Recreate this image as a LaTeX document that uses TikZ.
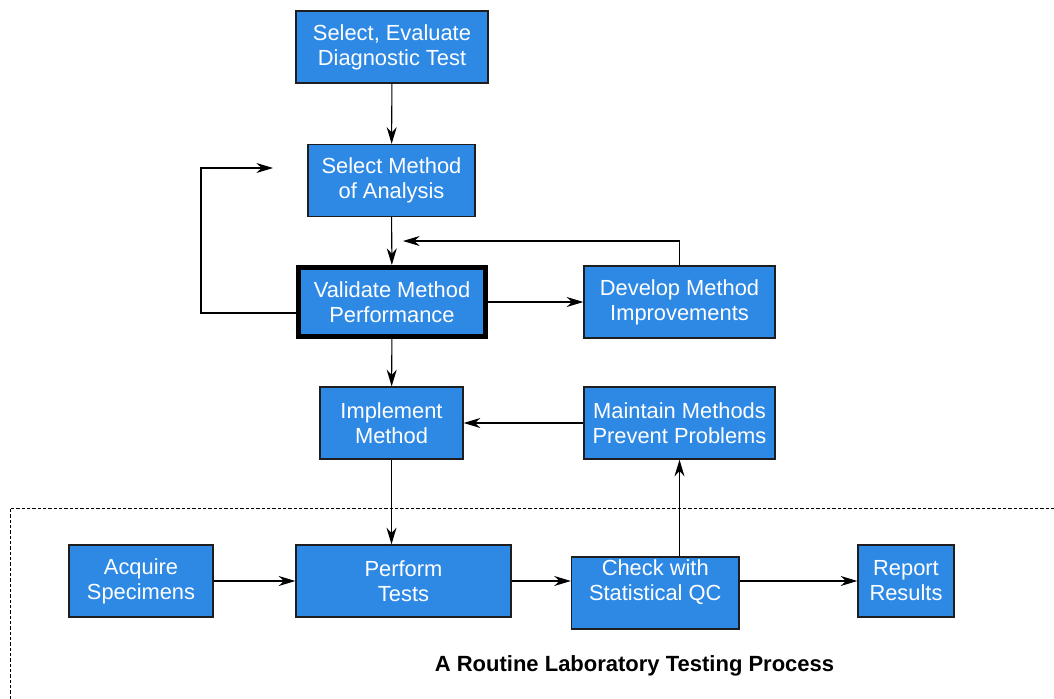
\documentclass[tikz,border=0pt]{standalone}
\usepackage{fontspec}
\setmainfont{Liberation Sans}
\usepackage{tikz}
\usetikzlibrary{arrows.meta}
\definecolor{boxblue}{RGB}{46,137,229}
\definecolor{edgegrey}{RGB}{30,30,30}

\begin{document}
\begin{tikzpicture}[x=0.75pt,y=0.75pt,yscale=-1,xscale=1,
	blk/.style={draw=edgegrey,line width=1pt,fill=boxblue,text=white,align=center,inner sep=0pt,
		minimum height=54pt,font=\fontsize{16.4}{18.75}\selectfont},
	arr/.style={draw=black,line width=0.8pt,-{Stealth[length=12.5pt,width=7.5pt,inset=4pt]}}]
	\useasboundingbox (0,0) rectangle (1054,699);
	
	%Shape: Rectangle [id:sel]
	\node[blk,minimum width=144pt] (sel) at (392,47) {Select, Evaluate\\Diagnostic Test};
	%Shape: Rectangle [id:mth]
	\node[blk,minimum width=125.25pt] (mth) at (391.5,180.5) {Select Method\\of Analysis};
	%Shape: Rectangle [id:val]
	\node[blk,draw=black,line width=3.75pt,minimum width=140.25pt,minimum height=51.75pt] (val) at (392,302) {Validate Method\\Performance};
	%Shape: Rectangle [id:dev]
	\node[blk,minimum width=143.25pt] (dev) at (679.5,302) {Develop Method\\Improvements};
	%Shape: Rectangle [id:imp]
	\node[blk,minimum width=107.25pt] (imp) at (391.5,423) {Implement\\Method};
	%Shape: Rectangle [id:mnt]
	\node[blk,minimum width=143.25pt] (mnt) at (679.5,423) {Maintain Methods\\Prevent Problems};
	
	%Dashed frame of the routine process
	\draw[line width=0.75pt,dash pattern=on 2.5pt off 1.5pt] (10,699) -- (10,508) -- (1054,508);
	
	%Shape: Rectangle [id:acq]
	\node[blk,minimum width=108pt] (acq) at (141,581) {Acquire\\Specimens};
	%Shape: Rectangle [id:prf]
	\node[blk,minimum width=161.25pt] (prf) at (403.5,581) {Perform\\Tests};
	%Shape: Rectangle [id:chk]
	\node[blk,minimum width=125.6pt,text height=32.25pt,text depth=21.75pt] (chk) at (655.25,593) {Check with\\Statistical QC};
	%Shape: Rectangle [id:rep]
	\node[blk,minimum width=72pt] (rep) at (906,581) {Report\\Results};
	
	% Text Node
	\node[font=\fontsize{16.5}{19}\selectfont\bfseries,inner sep=0pt] (ttl) at (634.5,666) {A Routine Laboratory Testing Process};
	
	%Straight Lines
	\coordinate (fbL) at (201,313);
	\coordinate (fbE) at (273,168);
	\coordinate (dvE) at (403,241);
	\draw[arr] (sel) -- (mth);
	\draw[arr] (mth) -- (val);
	\draw[arr] (val.west |- fbL) -- (fbL) |- (fbE);
	\draw[arr] (val) -- (dev);
	\draw[arr] (dev.north) |- (dvE);
	\draw[arr] (val) -- (imp);
	\draw[arr] (mnt) -- (imp);
	\draw[arr] (imp.south) -- (imp.south |- prf.north);
	\draw[arr] (acq) -- (prf);
	\draw[arr] (prf.east) -- (prf.east -| chk.west);
	\draw[arr] (chk.north -| mnt.south) -- (mnt.south);
	\draw[arr] (chk.east |- rep.west) -- (rep.west);
	
\end{tikzpicture}
\end{document}
